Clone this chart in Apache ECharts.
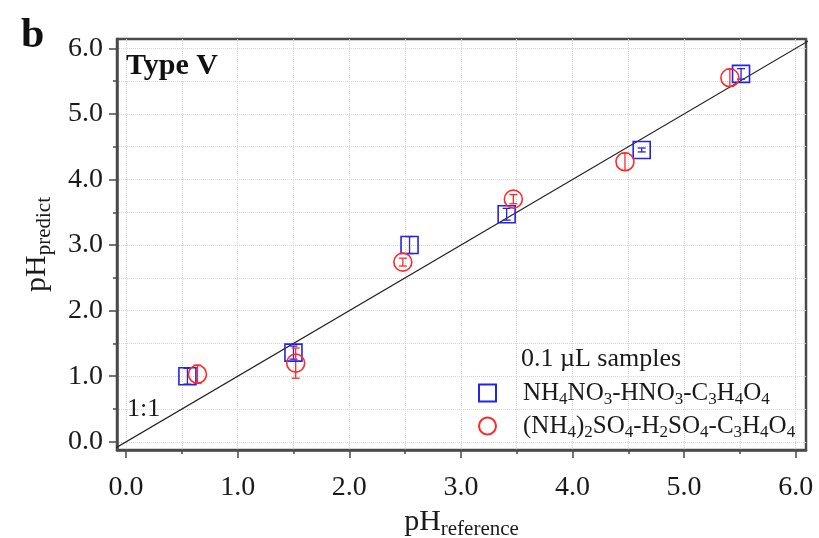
<!DOCTYPE html>
<html>
<head>
<meta charset="utf-8">
<script src="https://cdn.jsdelivr.net/npm/echarts@6/dist/echarts.min.js"></script>
<style>html,body{margin:0;padding:0;background:#fff;}#c{width:819px;height:538px;}</style>
</head>
<body>
<div id="c"></div>
<script>
// ---- data ----
const seriesNames = ['NH4NO3-HNO3-C3H4O4', '(NH4)2SO4-H2SO4-C3H4O4'];
const sqX = [0.55, 1.50, 2.54, 3.41, 4.62, 5.51];
const sqY = [1.00, 1.36, 3.00, 3.47, 4.45, 5.61];
const sqErr = [0.12, 0.10, 0.13, 0.09, 0.03, 0.08];
const ciX = [0.64, 1.52, 2.48, 3.47, 4.47, 5.41];
const ciY = [1.03, 1.20, 2.74, 3.70, 4.27, 5.55];
const ciErr = [0.14, 0.23, 0.06, 0.07, 0.13, 0.13];
const oneToOne = [[-0.3, -0.3], [6.4, 6.4]];
const majorTicks = [0, 1, 2, 3, 4, 5, 6];
const minorTicks = [0.5, 1.5, 2.5, 3.5, 4.5, 5.5];

const FONT = 'Liberation Serif';
const BLUE = '#2424e6';
const RED = '#ff2a2a';
const FRAME = '#4a4a4a';
const GRIDC = '#d6d6d6';

const sqData = sqX.map((x, i) => [x, sqY[i], sqErr[i]]);
const ciData = ciX.map((x, i) => [x, ciY[i], ciErr[i]]);

function errRender(color) {
  return function (params, api) {
    const x = api.value(0), y = api.value(1), e = api.value(2);
    const lo = api.coord([x, y - e]);
    const hi = api.coord([x, y + e]);
    const w = 4;
    const st = { stroke: color, lineWidth: 1.3, fill: null };
    return {
      type: 'group',
      children: [
        { type: 'line', shape: { x1: lo[0], y1: lo[1], x2: hi[0], y2: hi[1] }, style: st },
        { type: 'line', shape: { x1: lo[0] - w, y1: lo[1], x2: lo[0] + w, y2: lo[1] }, style: st },
        { type: 'line', shape: { x1: hi[0] - w, y1: hi[1], x2: hi[0] + w, y2: hi[1] }, style: st }
      ]
    };
  };
}

function chem(s) {
  return s.replace(/([A-Za-z\)])(\d)/g, '$1{s|$2}');
}

const subRich = { s: { fontSize: 17, lineHeight: 14, verticalAlign: 'bottom', fontFamily: FONT, color: '#1a1a1a' } };
const nameRich = {
  m: { fontSize: 30, lineHeight: 36, fontFamily: FONT, color: '#1a1a1a' },
  s: { fontSize: 21, lineHeight: 18, verticalAlign: 'bottom', fontFamily: FONT, color: '#1a1a1a' }
};

function mainAxis(extra, isX) {
  return Object.assign({
    type: 'value',
    gridIndex: 0,
    axisLine: { show: true, onZero: false, lineStyle: { color: FRAME, width: 2.5 } },
    axisTick: { show: true, length: 8, customValues: majorTicks, lineStyle: { color: FRAME, width: 1.5 } },
    axisLabel: {
      show: true, customValues: majorTicks, fontFamily: FONT, fontSize: 28, color: '#1a1a1a',
      margin: isX ? 24 : 14,
      formatter: v => Number(v).toFixed(1)
    },
    splitLine: { show: true, lineStyle: { color: GRIDC, type: 'dotted', width: 1 } },
    nameLocation: 'middle',
    nameTextStyle: { rich: nameRich }
  }, extra);
}
function minorAxis(extra) {
  return Object.assign({
    type: 'value',
    gridIndex: 0,
    axisLine: { show: false, onZero: false },
    axisTick: { show: true, length: 4, customValues: minorTicks, lineStyle: { color: FRAME, width: 1.5 } },
    axisLabel: { show: false },
    splitLine: { show: true, lineStyle: { color: GRIDC, type: 'dotted', width: 1 } }
  }, extra);
}

const xMin = -0.081, xMax = 6.092, yMin = -0.125, yMax = 6.142;

const chart = echarts.init(document.getElementById('c'), null, { renderer: 'canvas' });
chart.setOption({
  animation: false,
  backgroundColor: '#fff',
  grid: {
    left: 117, right: 13, top: 39, bottom: 88, show: true, borderColor: FRAME, borderWidth: 2.5,
    backgroundColor: 'transparent', containLabel: false, outerBoundsMode: 'none'
  },
  title: [
    { text: 'b', left: 21, top: 15, padding: 0, textStyle: { fontFamily: FONT, fontSize: 42, fontWeight: 'bold', color: '#111' } },
    { text: 'Type V', left: 126, top: 51, padding: 0, textStyle: { fontFamily: FONT, fontSize: 30, fontWeight: 'bold', color: '#111' } },
    { text: '1:1', left: 127, top: 396, padding: 0, textStyle: { fontFamily: FONT, fontSize: 26, fontWeight: 'normal', color: '#1a1a1a' } },
    { text: '0.1 µL samples', left: 521, top: 346, padding: 0, textStyle: { fontFamily: FONT, fontSize: 26, fontWeight: 'normal', color: '#1a1a1a' } }
  ],
  legend: {
    data: seriesNames,
    orient: 'vertical',
    left: 478,
    top: 378,
    itemWidth: 17,
    itemHeight: 17,
    itemGap: 3,
    padding: 0,
    formatter: n => chem(n),
    textStyle: { fontFamily: FONT, fontSize: 25, lineHeight: 30, color: '#1a1a1a', padding: [0, 0, 0, 22], rich: subRich }
  },
  xAxis: [
    mainAxis({ min: xMin, max: xMax, position: 'bottom', name: '{m|pH}{s|reference}', nameGap: 52 }, true),
    minorAxis({ min: xMin, max: xMax, position: 'bottom' })
  ],
  yAxis: [
    mainAxis({ min: yMin, max: yMax, position: 'left', name: '{m|pH}{s|predict}', nameGap: 62, nameRotate: 90 }, false),
    minorAxis({ min: yMin, max: yMax, position: 'left' })
  ],
  series: [
    {
      name: '1:1', type: 'line', data: oneToOne, xAxisIndex: 0, yAxisIndex: 0,
      symbol: 'none', clip: true, lineStyle: { color: '#222', width: 1.2 }, silent: true, z: 3
    },
    {
      name: seriesNames[0], type: 'scatter', data: sqData, xAxisIndex: 0, yAxisIndex: 0,
      symbol: 'rect', symbolSize: 17,
      itemStyle: { color: 'rgba(0,0,0,0)', borderColor: BLUE, borderWidth: 1.6, opacity: 1 }, z: 5
    },
    {
      name: seriesNames[1], type: 'scatter', data: ciData, xAxisIndex: 0, yAxisIndex: 0,
      symbol: 'circle', symbolSize: 18,
      itemStyle: { color: 'rgba(0,0,0,0)', borderColor: RED, borderWidth: 1.6, opacity: 1 }, z: 5
    },
    {
      name: 'errSq', type: 'custom', data: sqData, xAxisIndex: 0, yAxisIndex: 0,
      renderItem: errRender(BLUE), z: 4, silent: true
    },
    {
      name: 'errCi', type: 'custom', data: ciData, xAxisIndex: 0, yAxisIndex: 0,
      renderItem: errRender(RED), z: 4, silent: true
    }
  ]
});
</script>
</body>
</html>
